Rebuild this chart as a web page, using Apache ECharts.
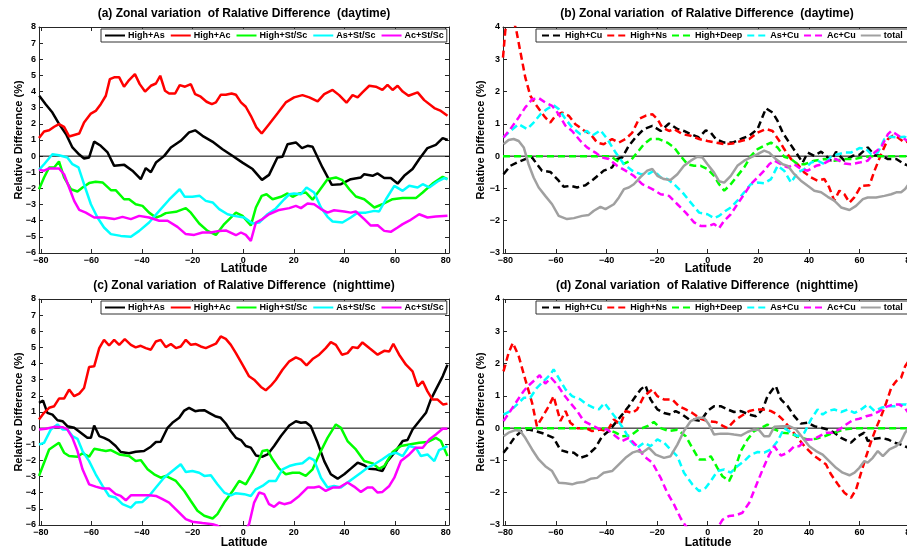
<!DOCTYPE html>
<html>
<head>
<meta charset="utf-8">
<script src="https://cdn.jsdelivr.net/npm/echarts@6/dist/echarts.min.js"></script>
<style>
  html, body { margin: 0; padding: 0; background: #fff; }
  #chart { width: 907px; height: 549px; }
</style>
</head>
<body>
<div id="chart"></div>
<script>
const latTicks = [-80, -60, -40, -20, 0, 20, 40, 60, 80];
const namesLeft = ['High+As', 'High+Ac', 'High+St/Sc', 'As+St/Sc', 'Ac+St/Sc'];
const namesRight = ['High+Cu', 'High+Ns', 'High+Deep', 'As+Cu', 'Ac+Cu', 'total'];
const colorsLeft = ['#000000', '#ff0000', '#00ff00', '#00ffff', '#ff00ff'];
const colorsRight = ['#000000', '#ff0000', '#00ff00', '#00ffff', '#ff00ff', '#a0a0a0'];

// (a) daytime, solid
const dayHighAs = [[-80.6,3.74],[-78,3.2],[-75.4,2.7],[-72.8,2.0],[-70,1.36],[-67.5,0.54],[-64.8,0.1],[-62.9,-0.15],[-60.9,-0.08],[-58.9,0.9],[-56.3,0.64],[-53.6,0.23],[-51,-0.6],[-47,-0.54],[-43.8,-0.9],[-40.5,-1.43],[-38.5,-0.74],[-36.5,-1.0],[-34.5,-0.4],[-31.3,0],[-28.6,0.54],[-24.7,0.95],[-21.4,1.47],[-19,1.6],[-16.1,1.26],[-12.2,0.9],[-8.2,0.43],[-4.3,0.02],[-0.3,-0.4],[3.7,-0.8],[7.4,-1.47],[10.2,-1.16],[13.5,-0.08],[15.5,-0.04],[17.5,0.74],[20.8,0.85],[23.2,0.5],[25.4,0.64],[27.4,0.58],[31.3,-0.7],[35,-1.78],[38.6,-1.74],[42.5,-1.43],[46.5,-1.32],[47.8,-1.12],[51.1,-1.22],[53.1,-1.07],[55.7,-1.36],[58.3,-1.36],[61,-1.7],[63.6,-1.22],[66.9,-0.8],[69.5,-0.19],[72.8,0.5],[76.1,0.7],[78.8,1.12],[80.8,1.0]];
const dayHighAc = [[-80.7,1.12],[-78.7,1.53],[-76.7,1.6],[-74.7,1.82],[-72.8,1.98],[-70.8,1.82],[-68.8,1.22],[-64.8,1.4],[-62.9,2.09],[-60.2,2.64],[-58.3,2.8],[-56.3,3.22],[-54.3,3.74],[-52.7,4.77],[-51,4.88],[-49,4.88],[-47.1,4.3],[-45.1,4.71],[-42.8,5.08],[-40.9,4.46],[-38.8,4.0],[-36.5,4.36],[-34.5,4.5],[-32.8,4.98],[-30.9,4.05],[-29.3,3.88],[-26.9,3.88],[-25.1,4.4],[-23,4.3],[-20.7,4.46],[-19,3.84],[-16.8,3.68],[-14.5,3.37],[-12.4,3.22],[-10.8,3.33],[-8.9,3.8],[-6.9,3.8],[-4.6,3.88],[-2.9,3.8],[-0.9,3.33],[1,3.06],[3,2.5],[5.2,1.78],[7.3,1.4],[10.2,1.98],[13.5,2.64],[16.8,3.33],[20.1,3.64],[23.4,3.78],[26.1,3.64],[29.4,3.39],[32,3.84],[35.3,4.1],[37.9,3.78],[40.8,3.31],[43.2,3.78],[45.2,3.64],[47.1,3.95],[49.8,4.36],[52.4,4.3],[55,4.1],[57,4.42],[59,4.1],[61,4.36],[63,4.0],[65.3,3.74],[68.9,3.95],[71.5,3.47],[75.5,2.98],[78.1,2.8],[80.7,2.5]];
const dayHighStSc = [[-80.7,-2.05],[-78.7,-1.32],[-76.7,-0.7],[-74.7,-0.7],[-72.8,-0.33],[-70.8,-1.32],[-68.1,-2.05],[-65.5,-2.19],[-63.5,-1.94],[-60.9,-1.67],[-58.3,-1.59],[-55.6,-1.63],[-52.3,-2.11],[-50.4,-2.11],[-47.1,-2.67],[-45.1,-2.67],[-42.5,-2.98],[-39.8,-3.08],[-37.2,-3.5],[-34.5,-3.8],[-32.6,-3.7],[-30.6,-3.53],[-26.6,-3.45],[-22.7,-3.22],[-20.7,-3.5],[-17.4,-4.17],[-14.1,-4.63],[-10.8,-4.88],[-7.5,-4.21],[-2.9,-3.5],[-0.3,-3.7],[3,-4.3],[5,-3.18],[7.3,-2.46],[9.2,-2.36],[11.6,-2.67],[14.9,-2.52],[17.5,-2.31],[19.5,-2.52],[22.1,-2.31],[24.7,-2.25],[27.4,-2.7],[30,-2.15],[33.3,-1.43],[36.6,-1.32],[39.2,-1.49],[41.9,-2.05],[44.5,-2.5],[47.8,-2.67],[51.8,-3.18],[55,-2.98],[59,-2.67],[63,-2.6],[68.2,-2.6],[70.9,-2.25],[74.8,-1.7],[78.8,-1.28],[80.7,-1.43]];
const dayAsStSc = [[-80.7,-0.85],[-78.7,-0.5],[-75.4,0.12],[-72.8,0.06],[-69.5,-0.08],[-67.5,-0.5],[-65.1,-0.7],[-62.9,-1.74],[-60.2,-2.98],[-57.6,-3.8],[-55,-4.42],[-52.3,-4.83],[-48.4,-4.94],[-44.4,-5.0],[-41.1,-4.63],[-37.2,-4.11],[-33.2,-3.39],[-29.3,-2.7],[-25.1,-2.05],[-23.1,-2.52],[-20.1,-2.52],[-17.2,-2.46],[-14.8,-2.77],[-12.1,-2.87],[-9.5,-3.28],[-6.2,-3.6],[-3.6,-3.7],[0.4,-3.8],[3.7,-4.17],[6.3,-4.11],[9.6,-3.6],[12.9,-3.24],[16.2,-2.67],[18.2,-2.36],[20.1,-2.31],[22.8,-2.36],[25,-1.94],[28,-2.25],[30.7,-3.18],[33.3,-3.76],[35.3,-4.05],[39.2,-4.11],[42.5,-3.8],[45.2,-3.5],[48.5,-3.5],[51.8,-3.39],[53.7,-3.43],[56.4,-2.67],[59.7,-1.84],[63,-2.15],[65.6,-1.84],[68.9,-1.94],[70.9,-1.74],[73.5,-1.94],[76.8,-1.57],[79.4,-1.36],[80.7,-1.43]];
const dayAcStSc = [[-80.7,-0.85],[-78.7,-0.9],[-76.7,-0.76],[-72.8,-0.76],[-70.8,-1.12],[-68.8,-1.94],[-66.8,-2.77],[-64.8,-3.33],[-62.2,-3.5],[-58.9,-3.8],[-55,-3.8],[-51,-3.9],[-47.7,-3.76],[-44.4,-3.9],[-41.1,-3.7],[-37.2,-3.8],[-33.2,-4.0],[-29.9,-4.0],[-26,-4.38],[-22.7,-4.83],[-19.4,-4.88],[-16.1,-4.73],[-12.8,-4.73],[-9.5,-4.63],[-6.9,-4.6],[-2.9,-4.9],[-0.9,-4.73],[1,-4.88],[3,-5.25],[5,-4.11],[7.6,-3.9],[10.2,-3.6],[14.2,-3.33],[18.2,-3.22],[20.8,-3.08],[22.8,-3.22],[25.4,-2.93],[28,-2.98],[30.7,-3.28],[33.3,-3.5],[35.9,-3.35],[39.9,-3.43],[42.5,-3.5],[44.5,-3.43],[47.8,-3.9],[50.4,-4.3],[53.1,-4.28],[55.7,-4.63],[58.3,-4.69],[61,-4.42],[63,-4.21],[65.6,-4.0],[69.5,-3.6],[72.8,-3.8],[76.1,-3.74],[80.7,-3.7]];

// (b) daytime, dashed + total
const dayHighCu = [[-80.7,-0.56],[-78,-0.3],[-75.4,-0.2],[-72.1,-0.09],[-69.4,-0.04],[-67.5,-0.25],[-65.5,-0.45],[-62.2,-0.49],[-58.9,-0.76],[-56.9,-0.95],[-54.3,-0.92],[-51.6,-0.97],[-48.3,-0.9],[-45,-0.71],[-41.1,-0.45],[-37.8,-0.35],[-35.8,-0.09],[-33.8,-0.04],[-31.2,0.32],[-28.5,0.58],[-25.2,0.84],[-21.9,0.94],[-18.6,0.78],[-15.3,1.01],[-12,0.84],[-9.4,0.78],[-6.7,0.68],[-3.4,0.58],[-0.8,0.8],[1.2,0.73],[3.2,0.53],[6.5,0.42],[9.8,0.42],[13.1,0.53],[16.4,0.63],[19.7,0.84],[23,1.48],[25.6,1.35],[27.6,1.09],[29.6,0.73],[32.2,0.42],[34.9,0.11],[37.5,-0.2],[39.5,0.11],[42.1,0.01],[44.8,0.14],[46.7,0.01],[48.7,-0.14],[50.7,0.13],[54,-0.14],[57.3,0.01],[59.9,0.04],[63.2,0.27],[65.9,0.03],[68.5,0.01],[71.2,-0.09],[74.5,-0.09],[77.8,-0.25],[79.3,-0.3],[81,-0.32]];
const dayHighNs = [[-80.9,3.05],[-80,3.88],[-79.3,4.2],[-76.7,4.2],[-75.6,3.88],[-74.1,3.26],[-72.1,2.44],[-70.1,1.87],[-68.1,1.61],[-66.1,1.4],[-64.2,1.2],[-62.2,1.04],[-60.2,1.25],[-57.6,1.35],[-54.9,1.25],[-52.3,0.99],[-49,0.8],[-46.3,0.68],[-43.7,0.42],[-41.1,0.37],[-37.8,0.53],[-35.1,0.42],[-32.5,0.53],[-29.8,0.73],[-27.2,1.15],[-24.6,1.25],[-21.9,1.3],[-19.9,1.15],[-18,0.89],[-15.3,0.78],[-13.3,0.84],[-10,0.68],[-6.7,0.63],[-3.4,0.53],[-0.1,0.47],[3.2,0.42],[6.5,0.37],[9.8,0.39],[13.1,0.47],[16.4,0.53],[19.7,0.73],[23,0.84],[25.6,0.78],[28.3,0.47],[30.2,0.22],[32.9,-0.09],[35.5,-0.25],[38.2,-0.51],[40.8,-0.66],[43.4,-0.76],[46.1,-0.71],[48,-0.97],[50,-1.38],[52,-1.07],[54,-1.18],[56,-1.44],[57.9,-1.28],[60.6,-0.92],[63.9,-0.9],[65.9,-0.45],[68.5,0.06],[71.2,0.53],[73.1,0.63],[75.1,0.58],[77.8,0.42],[79.3,0.47],[81,0.4]];
const dayHighDeep = [[-80.9,0],[-38.4,0],[-35.8,-0.14],[-33.1,-0.23],[-30.5,-0.14],[-27.9,0.11],[-25.2,0.37],[-22.6,0.53],[-19.3,0.53],[-16,0.42],[-13.3,0.27],[-10.7,0],[-8,-0.25],[-5.4,-0.3],[-2.8,-0.3],[-0.1,-0.4],[2.5,-0.61],[4.5,-0.87],[6.5,-1.07],[9.1,-0.87],[11.7,-0.61],[14.4,-0.35],[17,0],[19.7,0.22],[22.3,0.32],[25,0.42],[27.6,0.27],[30.2,-0.02],[32.9,-0.09],[35.5,-0.25],[38.2,-0.25],[42.1,-0.14],[46.1,-0.09],[50,-0.14],[54,-0.09],[58,-0.09],[61.9,-0.02],[65.9,0],[81.5,0]];
const dayAsCu = [[-80.7,0.58],[-78,0.78],[-74.7,0.99],[-71.4,0.84],[-68.8,1.04],[-66.1,1.3],[-63.5,1.46],[-60.9,1.58],[-58.9,1.46],[-56.2,1.15],[-53.6,0.89],[-50.3,0.68],[-47.7,0.78],[-45.7,0.63],[-42.4,0.8],[-39.7,0.53],[-36.4,0.11],[-33.1,-0.25],[-29.8,-0.45],[-26.5,-0.56],[-23.2,-0.54],[-21.3,-0.45],[-18.6,-0.66],[-16,-0.71],[-13.3,-0.87],[-10,-1.12],[-6.7,-1.44],[-3.4,-1.75],[-0.1,-1.8],[2.5,-1.92],[4.5,-1.85],[7.1,-1.69],[9.1,-1.59],[11.7,-1.38],[14.4,-1.12],[17,-0.87],[19.7,-0.82],[22.3,-0.84],[25,-0.71],[27.6,-0.3],[30.2,-0.45],[32.9,-0.82],[35.5,-0.51],[38.2,-0.4],[40.8,-0.2],[43.4,-0.14],[46.1,-0.25],[48.7,-0.02],[51.4,0.06],[54,0.11],[56.6,0.11],[59.9,0.25],[62.6,0.22],[64.6,0.06],[67.2,0.11],[69.8,0.53],[72.5,0.6],[75.1,0.58],[77.8,0.6],[79.3,0.53],[81,0.5]];
const dayAcCu = [[-80.7,0.58],[-78,0.84],[-74.7,1.2],[-72.1,1.51],[-69.4,1.76],[-66.8,1.8],[-64.2,1.66],[-61.5,1.56],[-58.9,1.3],[-56.2,0.94],[-53.6,0.78],[-50.3,0.47],[-47.7,0.27],[-44.4,0.11],[-41.7,-0.04],[-39.1,-0.09],[-35.8,-0.3],[-32.5,-0.45],[-29.2,-0.61],[-25.9,-0.87],[-21.9,-1.02],[-18.6,-1.18],[-15.3,-1.23],[-12,-1.49],[-8.7,-1.75],[-5.4,-2.05],[-2.8,-2.16],[0.5,-2.16],[2.5,-2.1],[4.5,-2.23],[6.5,-2.0],[9.1,-1.8],[11.7,-1.49],[14.4,-1.18],[17,-0.87],[19.7,-0.66],[22.3,-0.45],[24.3,-0.25],[26.3,-0.14],[28.9,-0.25],[31.6,-0.35],[34.2,-0.25],[36.8,-0.4],[39.5,-0.45],[42.8,-0.3],[45.4,-0.25],[48,-0.14],[50.7,-0.09],[54,-0.23],[56.6,-0.25],[59.9,-0.2],[63.2,-0.14],[65.9,0.11],[68.5,0.27],[71.2,0.68],[72.5,0.78],[74.5,0.68],[76.4,0.58],[79.3,0.47],[81,0.45]];
const dayTotal = [[-80.7,0.37],[-78.7,0.5],[-76.7,0.53],[-74.7,0.47],[-72.7,0.27],[-70.8,-0.25],[-68.8,-0.66],[-66.8,-0.97],[-64.2,-1.23],[-61.5,-1.49],[-58.9,-1.85],[-55.6,-1.95],[-52.9,-1.92],[-49.6,-1.85],[-47,-1.82],[-45,-1.69],[-42.4,-1.57],[-40.4,-1.64],[-37.1,-1.49],[-35.1,-1.28],[-33.1,-1.02],[-31.2,-0.97],[-29.2,-0.87],[-26.5,-0.64],[-23.9,-0.45],[-21.9,-0.4],[-19.9,-0.61],[-17.3,-0.71],[-14.7,-0.74],[-12,-0.56],[-9.4,-0.3],[-6.7,-0.14],[-4.1,-0.02],[-2.1,-0.04],[-0.1,-0.25],[2.5,-0.51],[4.5,-0.78],[6.5,-0.82],[9.1,-0.61],[11.7,-0.3],[14.4,-0.14],[17,-0.04],[19.7,0.06],[22.3,0.17],[24.3,0.11],[26.9,-0.09],[29.6,-0.25],[31.6,-0.3],[34.2,-0.56],[36.8,-0.76],[39.5,-0.92],[42.1,-1.07],[44.8,-1.12],[47.4,-1.26],[50,-1.38],[52.7,-1.59],[56,-1.67],[58.6,-1.54],[61.3,-1.33],[63.2,-1.28],[66.5,-1.28],[69.8,-1.23],[72.5,-1.18],[74.5,-1.12],[76.4,-1.12],[78,-1.02],[79.3,-0.87],[81,-0.75]];

// (c) nighttime, solid
const nightHighAs = [[-80.7,1.56],[-79.1,1.7],[-77.4,0.95],[-75.4,0.84],[-73.4,0.49],[-71.4,0.43],[-69.5,0.12],[-66.8,0.02],[-64.2,-0.29],[-61.6,-0.6],[-60.2,-0.6],[-58.9,0.16],[-56.9,-0.49],[-55,-0.6],[-53,-0.76],[-50.4,-1.11],[-48.4,-1.48],[-45.1,-1.56],[-42.5,-1.46],[-39.2,-1.42],[-36.5,-1.15],[-34.5,-0.86],[-32.6,-0.84],[-29.9,0.02],[-28,0.33],[-25.3,0.64],[-23.3,1.09],[-21.4,1.26],[-19,1.05],[-17.4,1.09],[-15.4,1.11],[-13.5,0.95],[-11.1,0.74],[-8.9,0.64],[-6.9,0.29],[-4.9,-0.19],[-2.9,-0.6],[-0.9,-0.74],[1,-1.11],[3,-1.21],[5,-1.69],[7.6,-1.77],[9.6,-1.63],[12.2,-1.11],[14.9,-0.49],[18.2,0.16],[20.8,0.43],[22.8,0.33],[24.7,0.37],[26.7,0.12],[29.4,-0.91],[32,-2.04],[34.6,-2.86],[37.3,-3.13],[39.9,-2.86],[42.5,-2.51],[45.2,-2.14],[47.8,-2.3],[49.8,-2.51],[52.4,-2.55],[55,-2.65],[57,-2.04],[60.3,-1.42],[63,-0.8],[64.9,-0.74],[66.9,-0.08],[69.5,0.43],[72.2,0.95],[74.1,1.77],[76.1,2.39],[78.8,3.21],[80.7,3.93]];
const nightHighAc = [[-80.7,0.53],[-78.7,0.95],[-76.7,1.26],[-74.7,1.36],[-72.8,1.83],[-70.8,1.83],[-68.8,2.39],[-66.8,1.98],[-64.8,2.14],[-62.9,2.49],[-60.9,3.79],[-58.9,3.83],[-56.9,4.96],[-55,5.47],[-53,5.12],[-51,5.47],[-49,5.16],[-46.8,5.51],[-44.4,5.16],[-42.5,5.0],[-40.5,5.1],[-38.5,4.96],[-36.5,4.86],[-34.5,5.37],[-32.6,5.47],[-30.6,5.02],[-28.6,5.21],[-26.6,4.96],[-24.7,5.06],[-22.7,5.47],[-20.7,5.16],[-18.7,5.21],[-16.8,5.06],[-14.8,4.96],[-12.8,5.1],[-10.8,5.23],[-8.9,5.68],[-6.9,5.53],[-4.9,5.16],[-2.9,4.65],[-0.3,3.93],[2.3,3.21],[4.3,3.0],[7,2.55],[8.9,2.35],[10.9,2.63],[12.9,3.0],[15.5,3.62],[18.2,4.14],[20.8,4.38],[22.8,4.24],[25,3.89],[27.4,4.28],[30,4.55],[32.6,4.96],[34.6,5.33],[36.6,5.16],[39,4.55],[41.2,4.65],[43.2,5.02],[45.2,4.96],[47.1,5.31],[49.8,4.96],[53.1,4.55],[55.7,4.79],[57.7,4.75],[59.3,5.23],[61.6,4.55],[64.3,3.93],[66.9,3.52],[68.9,2.59],[70.9,2.9],[72.8,2.28],[74.8,1.77],[76.8,1.77],[79,1.46],[80.7,1.52]];
const nightHighStSc = [[-80.7,-2.96],[-78.7,-2.14],[-76.7,-1.32],[-74.7,-1.11],[-72.8,-0.91],[-70.8,-1.52],[-68.8,-1.73],[-65.5,-1.77],[-63.5,-1.56],[-60.9,-1.77],[-58.9,-1.28],[-56.3,-1.36],[-54.3,-1.42],[-52.3,-1.36],[-49,-1.63],[-45.1,-1.73],[-42.5,-2.04],[-40.5,-1.98],[-37.8,-2.55],[-35.2,-2.86],[-32.6,-3.07],[-30.6,-2.96],[-26.6,-3.27],[-23.3,-3.89],[-20.7,-4.51],[-18.1,-5.12],[-15.4,-5.43],[-12.1,-5.6],[-10.2,-5.33],[-7.5,-4.61],[-4.2,-3.89],[-1.6,-3.27],[1,-3.48],[3.7,-2.76],[6.3,-1.93],[7.6,-1.42],[9.6,-1.36],[11.6,-1.93],[14.2,-2.51],[16.8,-2.86],[19.5,-2.76],[22.1,-2.76],[24.7,-2.96],[27.4,-2.55],[30,-1.63],[33.3,-0.6],[36.6,0.23],[38.6,0.02],[41.2,-0.8],[44.5,-1.32],[47.8,-2.04],[51.1,-2.18],[53.7,-2.51],[55.7,-2.35],[59,-1.48],[62.3,-1.11],[65.6,-1.01],[69.5,-0.91],[72.8,-0.86],[76.1,-0.6],[78.1,-0.8],[80.7,-1.73]];
const nightAsStSc = [[-80.7,-1.01],[-78.7,-0.91],[-76,-0.08],[-73.4,0.23],[-71.4,-0.08],[-69.5,-0.08],[-67.5,-0.49],[-65.5,-0.66],[-63.5,-1.42],[-60.9,-2.04],[-58.3,-2.86],[-55.6,-3.58],[-53,-4.2],[-50.4,-4.3],[-47.7,-4.71],[-44.4,-4.92],[-42.5,-4.61],[-39.8,-4.57],[-37.2,-4.2],[-34.5,-3.68],[-31.3,-3.07],[-28,-2.65],[-24.7,-2.24],[-22.7,-2.72],[-20.1,-2.65],[-17.4,-2.76],[-15.4,-2.96],[-12.8,-2.92],[-10.2,-3.48],[-7.5,-3.99],[-4.9,-4.16],[-2.9,-4.03],[0.4,-4.09],[3,-4.2],[5,-3.79],[7.6,-3.58],[10.2,-3.27],[12.9,-3.27],[15.5,-2.55],[18.2,-2.35],[20.8,-2.24],[23.4,-2.18],[26.1,-1.83],[28,-1.98],[30.7,-3.07],[33.3,-3.68],[35.9,-3.58],[38.6,-3.68],[41.2,-3.37],[43.8,-3.07],[46.5,-2.76],[49.1,-2.45],[51.8,-2.24],[55,-1.93],[57.7,-1.63],[60.3,-1.52],[63,-1.73],[65.6,-1.11],[68.2,-1.21],[70.2,-1.73],[72.8,-1.63],[75.5,-2.04],[77.4,-1.36],[80.7,-1.11]];
const nightAcStSc = [[-80.7,-0.08],[-78,-0.04],[-74.7,0.08],[-71.4,0.06],[-69.5,-0.08],[-67.5,-0.6],[-65.5,-1.42],[-63.5,-2.55],[-60.9,-3.48],[-58.3,-3.62],[-55.6,-3.74],[-53,-3.74],[-50.4,-4.09],[-48.4,-4.2],[-46.4,-4.47],[-44.4,-4.16],[-41.1,-4.16],[-37.2,-4.16],[-34.5,-4.2],[-31.9,-4.4],[-29.3,-4.61],[-26,-5.12],[-22.7,-5.64],[-20.1,-5.8],[-16.1,-5.88],[-12.1,-5.95],[-10.2,-6.05],[-8.2,-6.26],[-2.9,-6.5],[1,-6.26],[2.3,-5.95],[4.3,-4.61],[6.3,-3.99],[8.3,-4.09],[10.2,-4.71],[12.2,-4.88],[14.2,-4.61],[16.2,-4.71],[18.8,-4.61],[22.1,-4.2],[25.4,-3.68],[28,-3.68],[30,-3.62],[32.6,-3.89],[35.3,-3.68],[37.9,-3.68],[41.2,-3.37],[43.8,-3.62],[46.5,-3.95],[49.1,-3.68],[51.1,-3.68],[53.1,-3.99],[55,-3.95],[57.7,-3.58],[59.7,-3.07],[62.3,-2.04],[65.6,-1.63],[68.2,-1.21],[70.9,-1.21],[73.5,-0.7],[76.1,-0.39],[78.8,-0.04],[80.7,-0.04]];

// (d) nighttime, dashed + total
const nightHighCu = [[-80.7,-0.76],[-78.7,-0.56],[-76,-0.25],[-73.4,-0.09],[-70.8,-0.04],[-68.1,-0.09],[-64.8,-0.17],[-60.9,-0.3],[-58.2,-0.68],[-55.6,-0.74],[-52.9,-0.76],[-50.3,-0.92],[-47.7,-0.85],[-44.4,-0.61],[-41.7,-0.25],[-39.1,-0.09],[-36.4,0.17],[-33.8,0.42],[-31.2,0.68],[-28.5,0.99],[-26.5,1.2],[-24.6,1.32],[-22.6,0.89],[-19.9,0.58],[-17.3,0.47],[-14.7,0.42],[-12.7,0.53],[-10,0.42],[-7.4,0.27],[-4.8,0.25],[-2.8,0.22],[-0.1,0.53],[2.5,0.68],[5.1,0.68],[7.8,0.58],[10.4,0.5],[13.1,0.53],[16.4,0.42],[19,0.37],[21.7,0.58],[23.6,0.99],[25.6,1.2],[26.9,1.3],[28.9,0.89],[31.6,0.68],[34.2,0.37],[36.8,0.14],[39.5,0.17],[42.1,0.06],[44.8,0.01],[47.4,-0.04],[50,-0.14],[52.7,-0.3],[56.6,-0.45],[59.3,-0.25],[61.9,-0.14],[63.2,-0.4],[65.9,-0.33],[68.5,-0.3],[71.2,-0.35],[73.8,-0.45],[76.4,-0.51],[79.3,-0.61],[81,-0.65]];
const nightHighNs = [[-80.7,1.76],[-78.7,2.33],[-77,2.64],[-74.7,2.23],[-72.1,1.51],[-69.4,0.78],[-67.5,0.06],[-65.5,0.32],[-62.8,0.68],[-60.9,0.99],[-59.5,0.58],[-58.2,0.22],[-56.2,0.53],[-54.3,0.17],[-51.6,0],[-48.3,0],[-45.7,-0.09],[-42.4,-0.04],[-39.7,-0.09],[-37.1,0.27],[-34.5,0.11],[-32.5,0.53],[-29.8,0.47],[-27.9,0.58],[-25.2,0.99],[-21.9,1.2],[-19.9,0.99],[-17.3,0.89],[-14,0.89],[-11.4,0.68],[-8.7,0.58],[-6.1,0.47],[-2.8,0.29],[-0.1,0.22],[3.2,0.19],[5.8,0.08],[7.8,0],[10.4,0.22],[13.1,0.37],[16.4,0.53],[19,0.58],[21.7,0.58],[25,0.53],[27.6,0.42],[30.2,0.22],[32.9,-0.04],[35.5,-0.3],[38.2,-0.56],[41.5,-0.82],[44.1,-0.97],[46.7,-1.12],[48.7,-1.43],[51.4,-1.74],[54,-2.0],[56.6,-2.16],[58.6,-1.9],[60.6,-1.38],[62.6,-0.87],[64.6,-0.4],[66.5,0],[68.5,0.37],[70.5,0.78],[72.5,1.25],[74.5,1.46],[76.4,1.56],[78,1.92],[79.3,2.07],[81,2.2]];
const nightHighDeep = [[-80.9,0],[-42.4,0],[-39.7,-0.03],[-36.4,-0.14],[-33.8,-0.25],[-30.5,-0.23],[-27.2,-0.04],[-23.9,0.06],[-21.3,0.19],[-18.6,0],[-15.3,-0.09],[-12,-0.05],[-8.7,-0.25],[-6.1,-0.61],[-3.4,-0.97],[-0.8,-0.97],[1.2,-0.87],[3.8,-1.23],[5.8,-1.49],[8.4,-1.64],[10.4,-1.33],[13.1,-0.71],[15.7,-0.35],[18.3,-0.09],[21,0],[23.6,0.11],[26.3,-0.04],[29.6,-0.14],[32.9,-0.17],[36.8,-0.3],[39.5,-0.35],[42.8,-0.33],[46.1,-0.25],[50,-0.14],[54,-0.04],[58,0],[81.5,0]];
const nightAsCu = [[-80.7,0.42],[-78,0.53],[-75.4,0.73],[-72.7,0.94],[-70.1,0.94],[-67.5,1.25],[-64.8,1.46],[-62.2,1.66],[-60.9,1.82],[-58.9,1.56],[-56.2,1.2],[-53.6,0.99],[-50.3,0.89],[-47.7,0.73],[-45,0.63],[-43,0.58],[-40.8,0.78],[-38.4,0.53],[-35.8,0.27],[-33.1,-0.04],[-30.5,-0.4],[-27.9,-0.61],[-25.2,-0.45],[-22.6,-0.56],[-19.9,-0.35],[-17.3,-0.45],[-14.7,-0.66],[-12,-0.87],[-9.4,-1.38],[-6.1,-1.74],[-3.4,-1.95],[-0.8,-1.85],[1.2,-1.64],[3.8,-1.33],[6.5,-1.28],[9.1,-1.38],[11.7,-1.18],[14.4,-1.02],[17,-0.82],[19.7,-0.74],[22.3,-0.76],[25,-0.66],[27.6,-0.4],[30.2,0],[32.9,-0.14],[35.5,-0.25],[38.2,-0.14],[40.8,0.27],[43.4,0.58],[45.4,0.42],[47.4,0.53],[50,0.58],[52.7,0.5],[55.3,0.58],[58,0.47],[60.6,0.58],[63.2,0.73],[65.9,0.53],[68.5,0.63],[71.2,0.68],[73.8,0.68],[76.4,0.73],[78.4,0.73],[79.3,0.68],[81,0.66]];
const nightAcCu = [[-80.7,0.22],[-78,0.53],[-75.4,0.84],[-72.7,1.15],[-70.8,1.32],[-68.8,1.46],[-66.4,1.64],[-64.2,1.38],[-61.9,1.56],[-59.5,1.35],[-56.9,1.04],[-54.3,0.78],[-51.6,0.53],[-49,0.22],[-46.3,0.11],[-43,-0.02],[-39.7,-0.04],[-36.4,-0.25],[-33.8,-0.4],[-31.2,-0.3],[-27.9,-0.56],[-25.2,-0.87],[-21.9,-1.07],[-18.6,-1.54],[-16,-2.0],[-13.3,-2.37],[-10.7,-2.79],[-8.7,-3.03],[-6.7,-3.2],[-0.1,-3.3],[3.8,-3.1],[5.8,-2.84],[8.4,-2.72],[11.1,-2.7],[13.7,-2.62],[16.4,-2.31],[19,-1.8],[21.7,-1.28],[24.3,-0.82],[26.3,-0.56],[28.9,-0.85],[31.6,-0.76],[34.2,-0.56],[36.2,-0.56],[38.8,-0.35],[41.5,-0.35],[44.1,-0.25],[46.7,-0.14],[49.4,-0.14],[52,-0.04],[54.7,0.11],[57.3,0.25],[59.9,0.29],[62.6,0.37],[65.2,0.42],[67.9,0.53],[70.5,0.66],[73.1,0.73],[75.8,0.73],[77.8,0.63],[79.3,0.47],[81,0.4]];
const nightTotal = [[-80.7,-0.25],[-78.7,-0.14],[-76,-0.06],[-74.1,-0.09],[-72.1,-0.3],[-69.4,-0.66],[-66.8,-0.97],[-64.2,-1.18],[-61.5,-1.33],[-58.9,-1.69],[-56.2,-1.71],[-53.6,-1.74],[-51.6,-1.69],[-49,-1.67],[-46.3,-1.57],[-43.7,-1.54],[-41.1,-1.38],[-37.8,-1.33],[-35.1,-1.12],[-32.5,-0.92],[-29.8,-0.76],[-27.9,-0.71],[-25.9,-0.76],[-23.2,-0.61],[-20.6,-0.82],[-17.3,-0.92],[-14.7,-0.87],[-12,-0.51],[-9.4,-0.09],[-6.7,0.22],[-4.1,0.32],[-1.5,0.32],[0.5,0.11],[2.5,-0.2],[5.1,-0.17],[7.8,-0.17],[10.4,-0.2],[13.1,-0.23],[15.7,-0.12],[18.3,-0.04],[20.3,-0.06],[22.3,-0.25],[24.3,-0.25],[26.3,0.04],[29.6,0.06],[32.2,0.06],[34.9,-0.04],[37.5,-0.3],[40.1,-0.56],[42.8,-0.71],[45.4,-0.82],[48,-1.02],[50.7,-1.23],[53.3,-1.38],[56,-1.46],[58,-1.38],[59.9,-1.23],[61.9,-1.02],[63.2,-1.07],[65.2,-0.92],[67.2,-0.71],[69.2,-0.87],[71.8,-0.66],[74.5,-0.56],[76.4,-0.4],[78,-0.14],[79.3,0],[81,0.1]];

const FONT = '"Liberation Sans", Arial, Helvetica, sans-serif';
const AXIS_COLOR = '#262626';
const minus = v => String(v).replace('-', '\u2212');

const grids = [
  { left: 39, top: 27, width: 410, height: 226, outerBoundsMode: 'none' },
  { left: 503, top: 27, width: 410, height: 226, outerBoundsMode: 'none' },
  { left: 39, top: 299, width: 410, height: 226, outerBoundsMode: 'none' },
  { left: 503, top: 299, width: 410, height: 226, outerBoundsMode: 'none' }
];
const xRanges = [[-80.7, 81.3], [-80.9, 81.1], [-80.7, 81.3], [-80.9, 81.1]];
const yRanges = [[-6, 8], [-3, 4], [-6, 8], [-3, 4]];
const yNameGaps = [15, 17, 15, 17];
const xNameGaps = [10, 10, 12, 12];

const xAxes = [];
const yAxes = [];
grids.forEach((g, i) => {
  const [min, max] = xRanges[i];
  const lineCfg = { show: true, onZero: false, lineStyle: { color: AXIS_COLOR, width: 1 } };
  const tickCfg = { show: true, inside: true, length: 4, customValues: latTicks, lineStyle: { color: AXIS_COLOR } };
  xAxes.push({
    type: 'value', gridIndex: i, min, max, position: 'bottom',
    axisLine: lineCfg, axisTick: tickCfg,
    axisLabel: { customValues: latTicks, margin: 3, fontSize: 9, fontWeight: 'bold', color: '#000', fontFamily: FONT, formatter: minus, hideOverlap: false },
    splitLine: { show: false },
    name: 'Latitude', nameLocation: 'middle', nameGap: xNameGaps[i], nameMoveOverlap: false,
    nameTextStyle: { fontSize: 12, fontWeight: 'bold', color: '#000', fontFamily: FONT, verticalAlign: 'top' }
  });
  xAxes.push({
    type: 'value', gridIndex: i, min, max, position: 'top',
    axisLine: lineCfg, axisTick: tickCfg, axisLabel: { show: false }, splitLine: { show: false }
  });
  const [ymin, ymax] = yRanges[i];
  const yTick = { show: true, inside: true, length: 4, lineStyle: { color: AXIS_COLOR } };
  yAxes.push({
    type: 'value', gridIndex: i, min: ymin, max: ymax, interval: 1, position: 'left',
    axisLine: lineCfg, axisTick: yTick,
    axisLabel: { margin: 3, fontSize: 9, fontWeight: 'bold', color: '#000', fontFamily: FONT, formatter: minus },
    splitLine: { show: false },
    name: 'Relative Difference (%)', nameLocation: 'middle', nameGap: yNameGaps[i], nameRotate: 90, nameMoveOverlap: false,
    nameTextStyle: { fontSize: 11, fontWeight: 'bold', color: '#000', fontFamily: FONT }
  });
  yAxes.push({
    type: 'value', gridIndex: i, min: ymin, max: ymax, interval: 1, position: 'right',
    axisLine: lineCfg, axisTick: yTick, axisLabel: { show: false }, splitLine: { show: false }
  });
});

function zeroLine(i) {
  return {
    name: 'zero' + i, type: 'line', xAxisIndex: 2 * i, yAxisIndex: 2 * i,
    data: [[xRanges[i][0], 0], [xRanges[i][1], 0]],
    symbol: 'none', silent: true, animation: false,
    lineStyle: { color: '#000', width: 1 }
  };
}

function lineSeries(i, name, data, color, dashed) {
  return {
    name, type: 'line', xAxisIndex: 2 * i, yAxisIndex: 2 * i, data,
    symbol: 'none', showSymbol: false, animation: false,
    itemStyle: { color },
    lineStyle: { color, width: 2.5, type: dashed ? [7, 4] : 'solid' }
  };
}

const panelData = [
  [dayHighAs, dayHighAc, dayHighStSc, dayAsStSc, dayAcStSc],
  [dayHighCu, dayHighNs, dayHighDeep, dayAsCu, dayAcCu, dayTotal],
  [nightHighAs, nightHighAc, nightHighStSc, nightAsStSc, nightAcStSc],
  [nightHighCu, nightHighNs, nightHighDeep, nightAsCu, nightAcCu, nightTotal]
];

const series = [];
panelData.forEach((sets, i) => {
  series.push(zeroLine(i));
  const right = i % 2 === 1;
  const names = right ? namesRight : namesLeft;
  const colors = right ? colorsRight : colorsLeft;
  sets.forEach((d, k) => {
    const dashed = right && names[k] !== 'total';
    series.push(lineSeries(i, names[k], d, colors[k], dashed));
  });
});

const titleTexts = [
  '(a) Zonal variation  of Ralative Difference  (daytime)',
  '(b) Zonal variation  of Ralative Difference  (daytime)',
  '(c) Zonal variation  of Ralative Difference  (nighttime)',
  '(d) Zonal variation  of Ralative Difference  (nighttime)'
];
const titles = titleTexts.map((t, i) => ({
  text: t, left: i % 2 ? 707 : 244, top: i < 2 ? 8 : 280, textAlign: 'center', padding: 0,
  textStyle: { fontSize: 12, fontWeight: 'bold', color: '#000', fontFamily: FONT }
}));

function legend(i) {
  const right = i % 2 === 1;
  return {
    data: right ? namesRight : namesLeft,
    left: right ? 536 : 101, top: grids[i].top + 2,
    width: right ? 440 : 400,
    orient: 'horizontal',
    itemWidth: 20, itemHeight: 10, itemGap: right ? 4 : 5,
    padding: right ? [2, 5, 2, 5] : [2, 3, 2, 3],
    borderColor: '#333', borderWidth: 1, backgroundColor: '#fff',
    selectedMode: false,
    itemStyle: { opacity: 0 },
    textStyle: { fontSize: 9, fontWeight: 'bold', color: '#000', fontFamily: FONT, padding: [0, 0, 0, -2] }
  };
}

const chart = echarts.init(document.getElementById('chart'), null, { renderer: 'canvas' });
chart.setOption({
  backgroundColor: '#fff',
  animation: false,
  title: titles,
  legend: [legend(0), legend(1), legend(2), legend(3)],
  grid: grids,
  xAxis: xAxes,
  yAxis: yAxes,
  series
});
</script>
</body>
</html>
